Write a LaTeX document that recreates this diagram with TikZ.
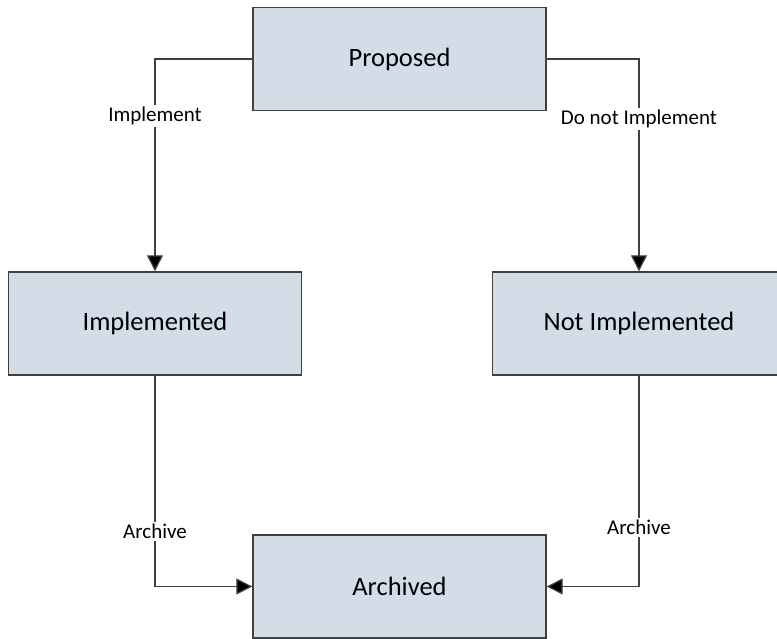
\documentclass[tikz,border=0pt]{standalone}
\usepackage{fontspec}
\setmainfont{Carlito}
\usetikzlibrary{arrows.meta,positioning}
\definecolor{boxfill}{HTML}{D3DDE8}
\definecolor{edge}{HTML}{404040}

\begin{document}
\begin{tikzpicture}[x=1pt,y=-1pt,
state/.style={draw=edge,line width=1.4pt,fill=boxfill,minimum width=293pt,minimum height=103pt,inner sep=0pt,font=\fontsize{26.5}{31}\selectfont},
lbl/.style={fill=white,inner sep=2pt,font=\fontsize{21}{24}\selectfont},
arr/.style={-{Triangle[length=16pt,width=16pt,fill=black]},line width=1.3pt,draw=edge}]
\clip (0,0) rectangle (777,639);
\node[state](prop) at (399.5,59){Proposed};
\node[state](impl) at (155,323.5){Implemented};
\node[state](notimpl) at (639,323.5){Not Implemented};
\node[state](arch) at (399.5,586.5){Archived};
\draw[arr](prop.west)-|node[lbl,pos=.634]{Implement}(impl.north);
\draw[arr](prop.east)-|node[lbl,pos=.642]{Do not Implement}(notimpl.north);
\draw[arr](impl.south)|-node[lbl,pos=.369]{Archive}(arch.west);
\draw[arr](notimpl.south)|-node[lbl,pos=.36]{Archive}(arch.east);
\end{tikzpicture}
\end{document}
